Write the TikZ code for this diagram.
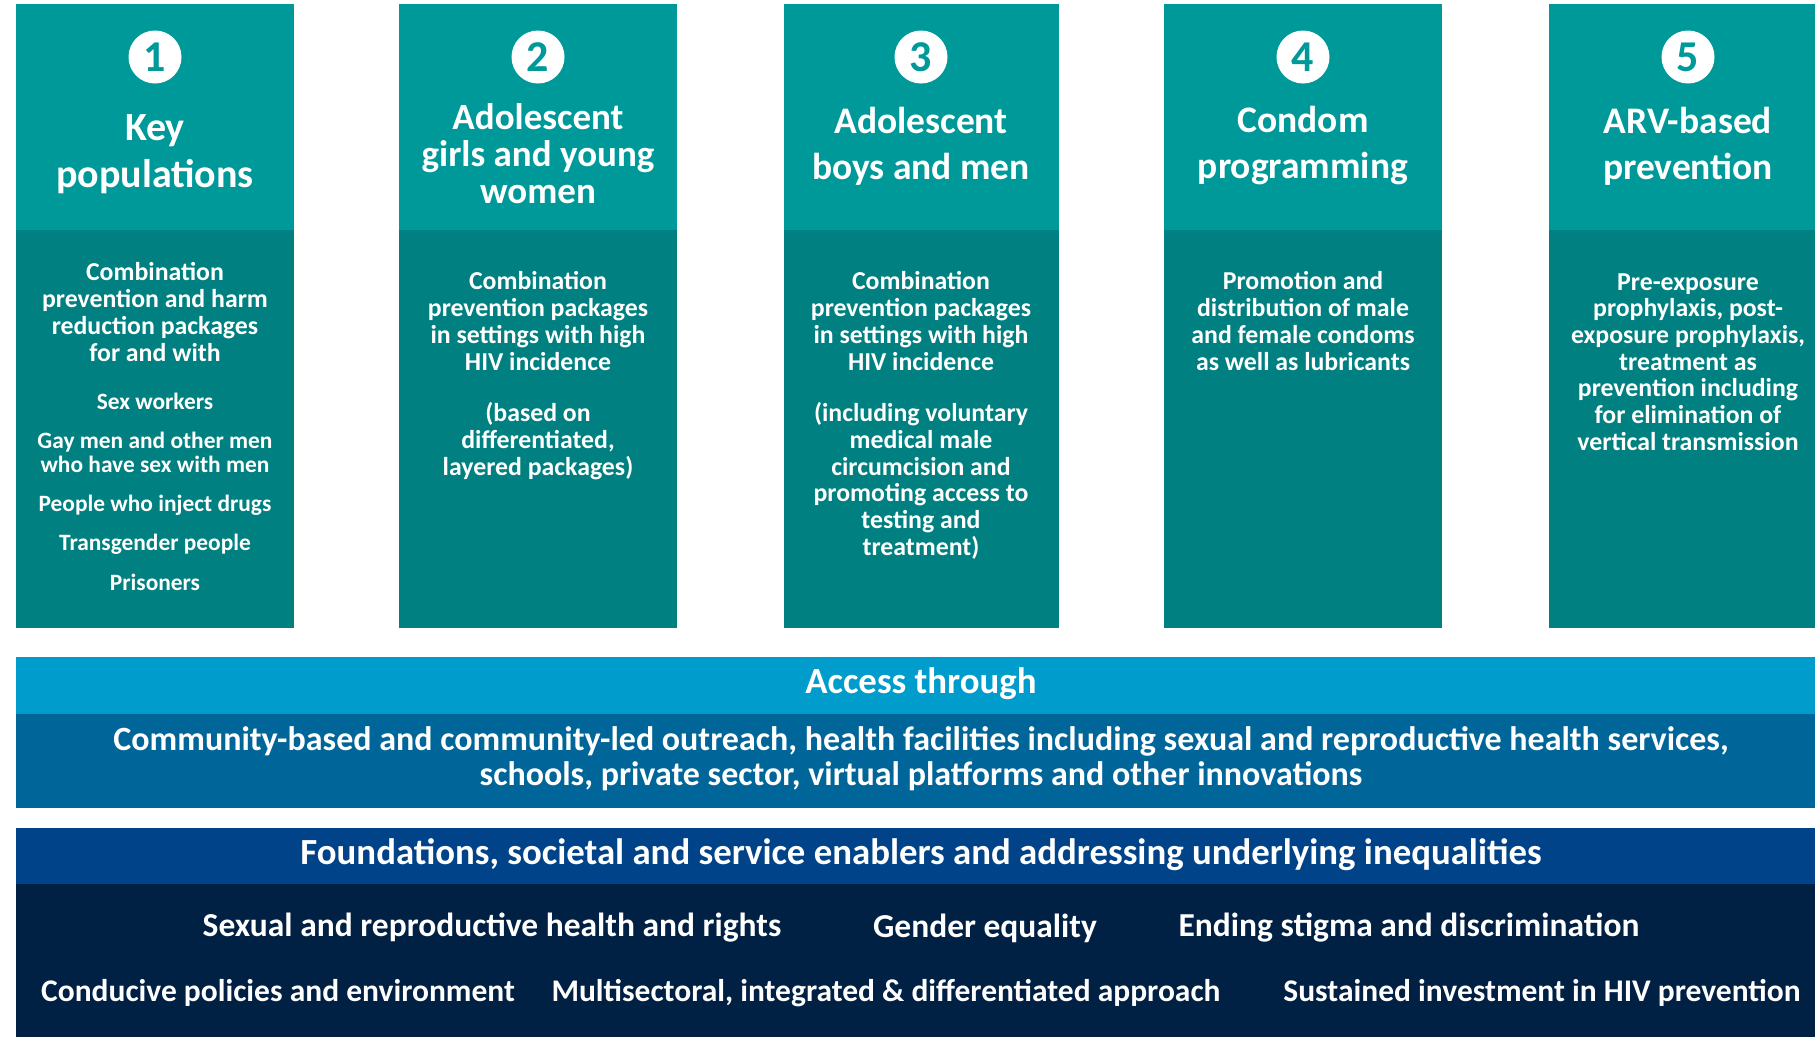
\documentclass[tikz,border=0pt]{standalone}
\usepackage{fontspec}
\setmainfont{Carlito}
\usetikzlibrary{positioning}
\definecolor{tealtop}{RGB}{0, 153, 153}
\definecolor{tealbody}{RGB}{0, 128, 128}
\definecolor{accesstop}{RGB}{0, 156, 204}
\definecolor{accessbody}{RGB}{0, 102, 153}
\definecolor{basetop}{RGB}{0, 67, 136}
\definecolor{basebody}{RGB}{0, 32, 68}

\tikzset{
  numdisc/.style={circle, fill=white, text=tealtop, inner sep=0pt, minimum size=53pt,
                  font=\bfseries\fontsize{44}{44}\selectfont},
  coltitle/.style={text=white, align=center, font=\bfseries\fontsize{37.5}{46}\selectfont},
  coltext/.style={text=white, align=center, font=\bfseries\fontsize{25.8}{26.7}\selectfont},
  listtext/.style={text=white, align=center, font=\bfseries\fontsize{23.4}{24}\selectfont},
  bandtitle/.style={text=white, align=center, font=\bfseries\fontsize{36.8}{38}\selectfont},
  bandtext/.style={text=white, align=center, font=\bfseries\fontsize{34}{35}\selectfont}
}

\begin{document}
\begin{tikzpicture}[x=1pt, y=-1pt]
            \useasboundingbox (0, 0) rectangle (1815, 1037);
            \clip (0, 0) rectangle (1815, 1037);
            % five columns
            \fill[tealtop]  (  16,   4) rectangle ( 294, 230);
            \fill[tealbody] (  16, 230) rectangle ( 294, 628);
            \fill[tealtop]  ( 399,   4) rectangle ( 677, 230);
            \fill[tealbody] ( 399, 230) rectangle ( 677, 628);
            \fill[tealtop]  ( 784,   4) rectangle (1059, 230);
            \fill[tealbody] ( 784, 230) rectangle (1059, 628);
            \fill[tealtop]  (1164,   4) rectangle (1442, 230);
            \fill[tealbody] (1164, 230) rectangle (1442, 628);
            \fill[tealtop]  (1549,   4) rectangle (1827, 230);
            \fill[tealbody] (1549, 230) rectangle (1827, 628);

            \node[numdisc] (num1) at ( 155, 57) {1};
            \node[numdisc] (num2) at ( 538, 57) {2};
            \node[numdisc] (num3) at ( 921, 57) {3};
            \node[numdisc] (num4) at (1303, 57) {4};
            \node[numdisc] (num5) at (1688, 57) {5};

            \node[coltitle, font=\bfseries\fontsize{40}{47}\selectfont] (keytitle) at ( 155, 154) {Key\\populations};
            \node[coltitle, font=\bfseries\fontsize{37}{37}\selectfont] (girlstitle) at ( 538, 154) {Adolescent\\girls and young\\women};
            \node[coltitle] (boystitle)   at ( 921, 146) {Adolescent\\boys and men};
            \node[coltitle] (condomtitle) at (1303, 146) {Condom\\programming};
            \node[coltitle] (arvtitle)    at (1688, 146) {ARV-based\\prevention};

            % column texts
            \node[coltext]  (keytext)  at ( 155, 312) {Combination\\prevention and harm\\reduction packages\\for and with};
            \node[listtext] (keysex)   at ( 155, 401) {Sex workers};
            \node[listtext] (keygay)   at ( 155, 452) {Gay men and other men\\who have sex with men};
            \node[listtext] (keydrugs) at ( 155, 505) {People who inject drugs};
            \node[listtext] (keytrans) at ( 155, 544) {Transgender people};
            \node[listtext] (keyjail)  at ( 155, 582) {Prisoners};

            \node[coltext] (girlstext)  at ( 538, 321) {Combination\\prevention packages\\in settings with high\\HIV incidence};
            \node[coltext] (girlsnote)  at ( 538, 441) {(based on\\differentiated,\\layered packages)};
            \node[coltext] (boystext)   at ( 921, 321) {Combination\\prevention packages\\in settings with high\\HIV incidence};
            \node[coltext] (boysnote)   at ( 921, 481) {(including voluntary\\medical male\\circumcision and\\promoting access to\\testing and\\treatment)};
            \node[coltext] (condomtext) at (1303, 321) {Promotion and\\distribution of male\\and female condoms\\as well as lubricants};
            \node[coltext] (arvtext)    at (1688, 362) {Pre-exposure\\prophylaxis, post-\\exposure prophylaxis,\\treatment as\\prevention including\\for elimination of\\vertical transmission};

            % access band
            \fill[accesstop]  (16, 657) rectangle (1815, 714);
            \fill[accessbody] (16, 714) rectangle (1815, 808);
            \node[bandtitle] (accesstitle) at (921, 684) {Access through};
            \node[bandtext]  (accesstext)  at (921, 759) {Community-based and community-led outreach, health facilities including sexual and reproductive health services,\\schools, private sector, virtual platforms and other innovations};

            % foundations band
            \fill[basetop]  (16, 828) rectangle (1815, 884);
            \fill[basebody] (16, 884) rectangle (1815, 1037);
            \node[bandtitle] (basetitle) at (921, 855) {Foundations, societal and service enablers and addressing underlying inequalities};
            \node[bandtext, font=\bfseries\fontsize{33.5}{35}\selectfont] (srhr)   at ( 492, 928) {Sexual and reproductive health and rights};
            \node[bandtext, font=\bfseries\fontsize{33.5}{35}\selectfont] (gender) at ( 985, 928) {Gender equality};
            \node[bandtext, font=\bfseries\fontsize{33.5}{35}\selectfont] (stigma) at (1409, 928) {Ending stigma and discrimination};
            \node[bandtext, font=\bfseries\fontsize{31.5}{35}\selectfont] (policies) at ( 278, 993) {Conducive policies and environment};
            \node[bandtext, font=\bfseries\fontsize{31.5}{35}\selectfont] (multi)    at ( 886, 993) {Multisectoral, integrated \& differentiated approach};
            \node[bandtext, font=\bfseries\fontsize{31.5}{35}\selectfont] (invest)   at (1542, 993) {Sustained investment in HIV prevention};
        \end{tikzpicture}
\end{document}
